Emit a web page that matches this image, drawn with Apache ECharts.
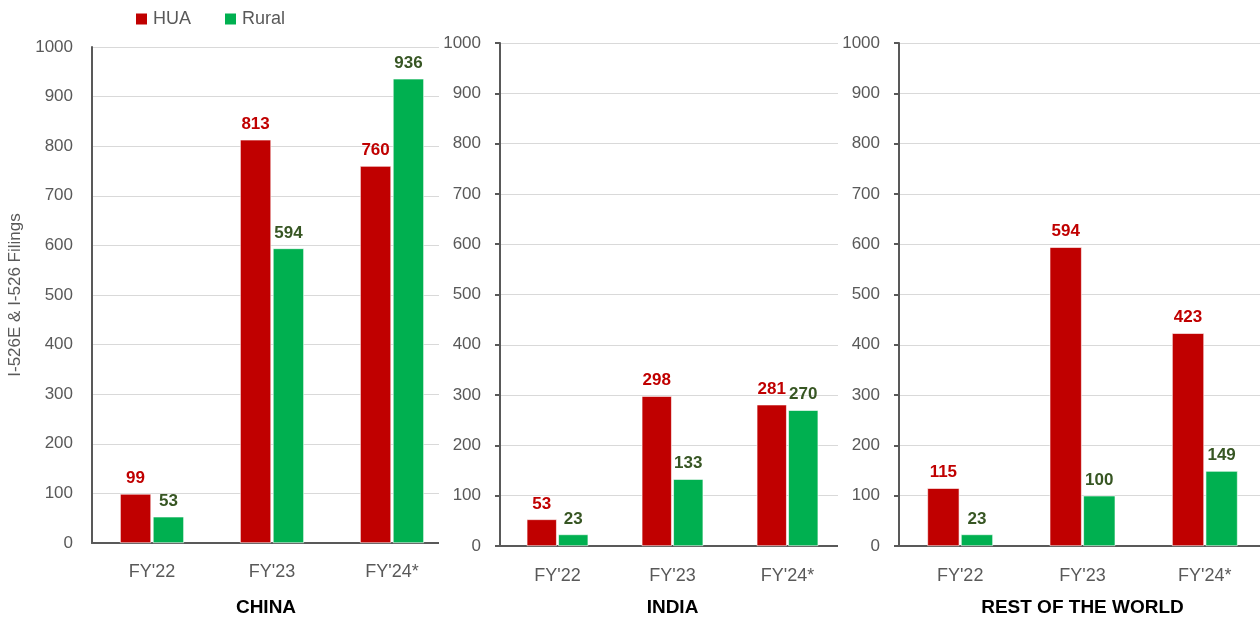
<!DOCTYPE html>
<html><head><meta charset="utf-8">
<script src="https://cdn.jsdelivr.net/npm/echarts@6/dist/echarts.min.js"></script>
<style>
html,body{margin:0;padding:0;background:#fff;width:1260px;height:621px;overflow:hidden;position:relative;}
.p{position:absolute;top:0;height:621px;background:#fff;}
</style></head>
<body>
<div id="c1" class="p" style="left:0;width:470px;"></div>
<div id="c2" class="p" style="left:439px;width:430px;"></div>
<div id="c3" class="p" style="left:838px;width:422px;"></div>
<script>
const categories = ["FY'22", "FY'23", "FY'24*"];
const yTicks = [0, 100, 200, 300, 400, 500, 600, 700, 800, 900, 1000];
const chinaHUA = [99, 813, 760];
const chinaRural = [53, 594, 936];
const indiaHUA = [53, 298, 281];
const indiaRural = [23, 133, 270];
const rowHUA = [115, 594, 423];
const rowRural = [23, 100, 149];
const panelTitles = ['CHINA', 'INDIA', 'REST OF THE WORLD'];
const yAxisName = 'I-526E & I-526 Filings';

const FONT = '"Liberation Sans", Arial, sans-serif';
const RED = '#C00000', GREEN = '#00B050';

function makeOption(cfg) {
  const s = (name, data, color, lblColor) => ({
    name, type: 'bar', data, barWidth: cfg.barWidth, barGap: cfg.barGap,
    itemStyle: { color, borderColor: '#ffffff', borderWidth: 0.6 },
    label: { show: true, position: 'top', distance: 7, color: lblColor,
      fontFamily: FONT, fontWeight: 'bold', fontSize: 17 }
  });
  return {
    animation: false,
    textStyle: { fontFamily: FONT },
    legend: cfg.legend ? {
      left: 129, top: 5, itemWidth: 13, itemHeight: 13, itemGap: 32,
      icon: 'rect', textStyle: { color: '#595959', fontSize: 18, fontFamily: FONT },
      data: ['HUA', 'Rural']
    } : { show: false },
    grid: { left: cfg.left, top: cfg.top, width: cfg.width, height: cfg.height,
      containLabel: false, outerBoundsMode: 'none' },
    xAxis: {
      type: 'category', data: categories,
      axisLine: { lineStyle: { color: '#595959', width: 2 } },
      axisTick: { show: false },
      axisLabel: { color: '#595959', fontSize: 18, margin: cfg.catMargin, fontFamily: FONT },
      name: cfg.title, nameLocation: 'middle', nameGap: cfg.nameGap,
      nameTextStyle: { color: '#000', fontWeight: 'bold', fontSize: 19, fontFamily: FONT,
        padding: cfg.titlePad || 0 }
    },
    yAxis: {
      type: 'value', min: 0, max: 1000, interval: 100,
      axisLine: { show: true, lineStyle: { color: '#595959', width: 2 } },
      axisTick: { show: cfg.ticks, length: 5, lineStyle: { color: '#595959', width: 2 } },
      axisLabel: { color: '#595959', fontSize: 17, margin: 19, fontFamily: FONT,
        formatter: v => yTicks.includes(v) ? String(v) : '' },
      splitLine: { lineStyle: { color: '#d9d9d9', width: 1 } },
      name: cfg.yName || '', nameLocation: 'middle', nameGap: 66, nameRotate: 90,
      nameTextStyle: { color: '#595959', fontSize: 17, fontFamily: FONT }
    },
    series: [s('HUA', cfg.hua, RED, '#C00000'), s('Rural', cfg.rural, GREEN, '#375623')]
  };
}

echarts.init(document.getElementById('c1'), null, {renderer: 'canvas'}).setOption(makeOption({
  legend: true, left: 92, top: 47, width: 360, height: 496, barWidth: 31, barGap: '6%',
  hua: chinaHUA, rural: chinaRural, title: panelTitles[0], ticks: false, yName: yAxisName,
  titlePad: [0, 12, 0, 0], nameGap: 55, catMargin: 20
}));
echarts.init(document.getElementById('c2'), null, {renderer: 'canvas'}).setOption(makeOption({
  legend: false, left: 61, top: 43, width: 345, height: 503, barWidth: 30, barGap: '5%',
  hua: indiaHUA, rural: indiaRural, title: panelTitles[1], ticks: true, nameGap: 52, catMargin: 21
}));
echarts.init(document.getElementById('c3'), null, {renderer: 'canvas'}).setOption(makeOption({
  legend: false, left: 61, top: 43, width: 367, height: 503, barWidth: 32, barGap: '5%',
  hua: rowHUA, rural: rowRural, title: panelTitles[2], ticks: true, nameGap: 52, catMargin: 21
}));
</script>
</body></html>
